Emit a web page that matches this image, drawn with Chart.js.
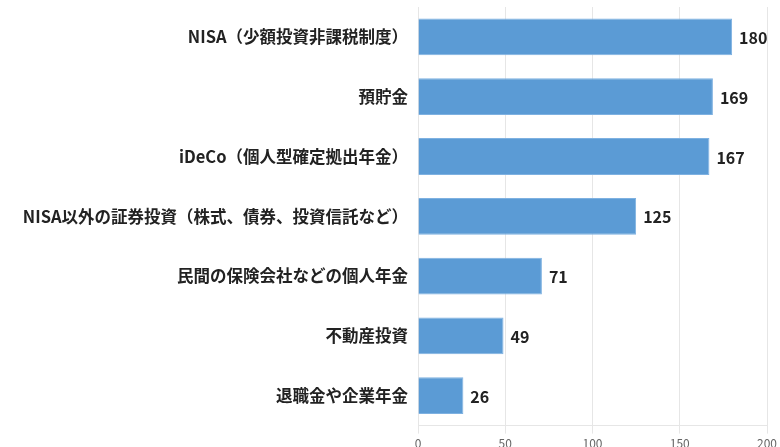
<!DOCTYPE html>
<html>
<head>
<meta charset="utf-8">
<script src="https://cdn.jsdelivr.net/npm/chart.js@4/dist/chart.umd.min.js"></script>
<style>
  html, body { margin: 0; padding: 0; background: #fff; overflow: hidden; }
  #wrap { position: relative; width: 780px; height: 454px; }
</style>
</head>
<body>
<div id="wrap"><canvas id="chart"></canvas></div>
<script>
const categories = [
  "NISA（少額投資非課税制度）",
  "預貯金",
  "iDeCo（個人型確定拠出年金）",
  "NISA以外の証券投資（株式、債券、投資信託など）",
  "民間の保険会社などの個人年金",
  "不動産投資",
  "退職金や企業年金"
];
const counts = [180, 169, 167, 125, 71, 49, 26];
const xTicks = [0, 50, 100, 150, 200];

const fontFamily = '"Noto Sans CJK JP", "Noto Sans", sans-serif';

// value labels at the end of each bar
const valueLabels = {
  id: "valueLabels",
  afterDatasetsDraw(chart) {
    const ctx = chart.ctx;
    const meta = chart.getDatasetMeta(0);
    ctx.save();
    ctx.font = "bold 16px " + fontFamily;
    ctx.fillStyle = "#222";
    ctx.textAlign = "left";
    ctx.textBaseline = "middle";
    meta.data.forEach((bar, i) => {
      ctx.fillText(String(counts[i]), bar.x + 7, bar.y + 1);
    });
    ctx.restore();
  }
};

const ctx = document.getElementById("chart").getContext("2d");
new Chart(ctx, {
  type: "bar",
  data: {
    labels: categories,
    datasets: [{
      data: counts,
      backgroundColor: "#5b9bd5",
      borderColor: "#7eb1e1",
      borderWidth: 1,
      categoryPercentage: 0.8,
      barPercentage: 0.77
    }]
  },
  options: {
    indexAxis: "y",
    responsive: true,
    maintainAspectRatio: false,
    animation: false,
    layout: { padding: { top: 7, right: 12, bottom: 0, left: 0 } },
    plugins: {
      legend: { display: false },
      tooltip: { enabled: false }
    },
    scales: {
      x: {
        min: 0,
        max: 200,
        afterBuildTicks: (scale) => {
          scale.ticks = xTicks.map(v => ({ value: v }));
        },
        ticks: {
          color: "#666",
          font: { family: fontFamily, size: 12 },
          padding: 3,
          maxRotation: 0
        },
        grid: { color: "#e6e6e6", tickLength: 8 },
        border: { color: "#e6e6e6" }
      },
      y: {
        afterFit: (scale) => {
          scale.width = 418;
          scale.paddingTop = 0;
          scale.paddingBottom = 0;
        },
        ticks: {
          color: "#222",
          font: { family: fontFamily, size: 16.5, weight: "bold" },
          padding: 10
        },
        grid: { display: false, drawTicks: false },
        border: { display: true, color: "#e6e6e6" }
      }
    }
  },
  plugins: [valueLabels]
});
</script>
</body>
</html>
